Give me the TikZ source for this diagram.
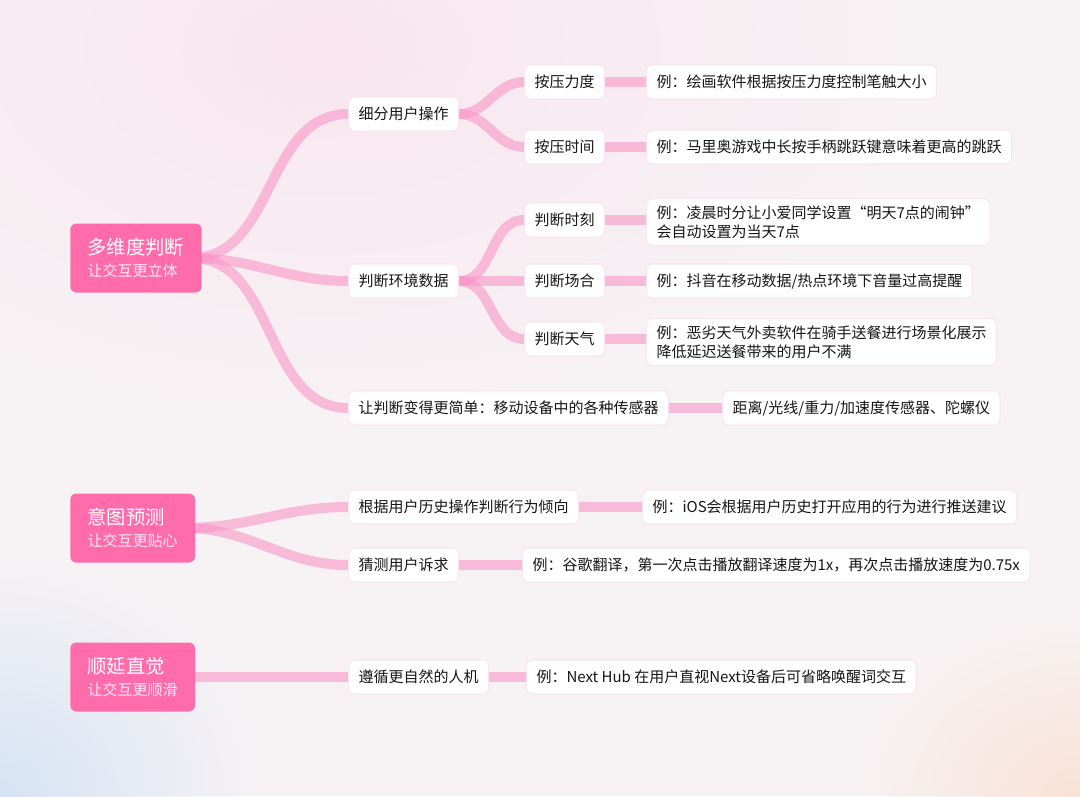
\documentclass[tikz,border=0pt]{standalone}
\usepackage{fontspec}
\setmainfont{Noto Sans CJK SC}
\usetikzlibrary{backgrounds,fadings}
\definecolor{rootpink}{RGB}{255,108,172}
\definecolor{linkpink}{RGB}{250,150,200}
\definecolor{inktext}{RGB}{22,22,24}
\definecolor{bgbase}{RGB}{247,242,244}
\definecolor{bgpink}{RGB}{250,230,240}
\definecolor{bgblue}{RGB}{214,228,245}
\definecolor{bgpeach}{RGB}{250,226,214}
\tikzfading[name=softdot, inner color=transparent!0, outer color=transparent!100]

\begin{document}
\begin{tikzpicture}[x=0.75pt,y=-0.75pt,
  root/.style={fill=rootpink,rounded corners=4.5pt,text=white,align=left,anchor=west,
    inner xsep=13pt,inner ysep=6pt,minimum height=51.75pt,font=\fontsize{11.25}{17}\selectfont},
  leaf/.style={fill=white,draw=bgpink,line width=0.8pt,rounded corners=4.5pt,text=inktext,
    align=left,anchor=west,inner xsep=7.5pt,inner ysep=5pt,minimum height=25.5pt,
    font=\fontsize{11.25}{14.5}\selectfont},
  link/.style={draw=linkpink,opacity=0.6,line width=7.5pt}]
  \useasboundingbox (0,0) rectangle (1080,796);

  % root nodes
  \node[root] (dw) at (70,258) {{\fontsize{14.5}{17}\selectfont 多维度判断}\\{\color{white!85!rootpink}让交互更立体}};
  \node[root] (yt) at (70,528) {{\fontsize{14.5}{17}\selectfont 意图预测}\\{\color{white!85!rootpink}让交互更贴心}};
  \node[root] (sy) at (70,677) {{\fontsize{14.5}{17}\selectfont 顺延直觉}\\{\color{white!85!rootpink}让交互更顺滑}};

  % first level
  \node[leaf] (xf) at (348,114) {细分用户操作};
  \node[leaf] (hj) at (348,281) {判断环境数据};
  \node[leaf] (jd) at (348,408) {让判断变得更简单：移动设备中的各种传感器};
  \node[leaf] (ls) at (348,507) {根据用户历史操作判断行为倾向};
  \node[leaf] (cc) at (348,565) {猜测用户诉求};
  \node[leaf] (zr) at (348,677) {遵循更自然的人机};

  % second level
  \node[leaf] (ly) at (524,82) {按压力度};
  \node[leaf] (sj) at (524,147) {按压时间};
  \node[leaf] (sk) at (524,220) {判断时刻};
  \node[leaf] (ch) at (524,281) {判断场合};
  \node[leaf] (tq) at (524,339) {判断天气};
  \node[leaf] (cgq) at (722,408) {距离/光线/重力/加速度传感器、陀螺仪};
  \node[leaf] (ios) at (642,507) {例：iOS会根据用户历史打开应用的行为进行推送建议};
  \node[leaf] (gg) at (522,565) {例：谷歌翻译，第一次点击播放翻译速度为1x，再次点击播放速度为0.75x};
  \node[leaf] (nh) at (526,677) {例：Next Hub 在用户直视Next设备后可省略唤醒词交互};

  % examples
  \node[leaf] (e1) at (646,82) {例：绘画软件根据按压力度控制笔触大小};
  \node[leaf] (e2) at (646,147) {例：马里奥游戏中长按手柄跳跃键意味着更高的跳跃};
  \node[leaf] (e3) at (646,222) {例：凌晨时分让小爱同学设置“明天7点的闹钟”\\会自动设置为当天7点};
  \node[leaf] (e4) at (646,281) {例：抖音在移动数据/热点环境下音量过高提醒};
  \node[leaf] (e5) at (646,342) {例：恶劣天气外卖软件在骑手送餐进行场景化展示\\降低延迟送餐带来的用户不满};

  \begin{scope}[on background layer]
    \fill[bgbase] (0,0) rectangle (1080,796);
    \fill[bgpink,path fading=softdot] (-250,-300) rectangle (900,400);
    \fill[bgblue,path fading=softdot] (-260,560) rectangle (260,1030);
    \fill[bgpeach,path fading=softdot] (860,620) rectangle (1300,980);
  \end{scope}

  \begin{scope}[on background layer]
    \draw[link] (dw.east) ++(-10,0) to[out=0,in=180] (xf.west);
    \draw[link] (dw.east) ++(-10,0) to[out=0,in=180] (hj.west);
    \draw[link] (dw.east) ++(-10,0) to[out=0,in=180] (jd.west);
    \draw[link] (yt.east) ++(-10,0) to[out=0,in=180] (ls.west);
    \draw[link] (yt.east) ++(-10,0) to[out=0,in=180] (cc.west);
    \draw[link] (sy.east) -- (zr.west);
    \draw[link] (xf.east) to[out=0,in=180] (ly.west);
    \draw[link] (xf.east) to[out=0,in=180] (sj.west);
    \draw[link] (hj.east) to[out=0,in=180] (sk.west);
    \draw[link] (hj.east) -- (ch.west);
    \draw[link] (hj.east) to[out=0,in=180] (tq.west);
    \draw[link] (ly.east) -- (e1.west);
    \draw[link] (sj.east) -- (e2.west);
    \draw[link] (sk.east) -- (sk.east -| e3.west);
    \draw[link] (ch.east) -- (e4.west);
    \draw[link] (tq.east) -- (tq.east -| e5.west);
    \draw[link] (jd.east) -- (cgq.west);
    \draw[link] (ls.east) -- (ios.west);
    \draw[link] (cc.east) -- (gg.west);
    \draw[link] (zr.east) -- (nh.west);
  \end{scope}
\end{tikzpicture}
\end{document}
